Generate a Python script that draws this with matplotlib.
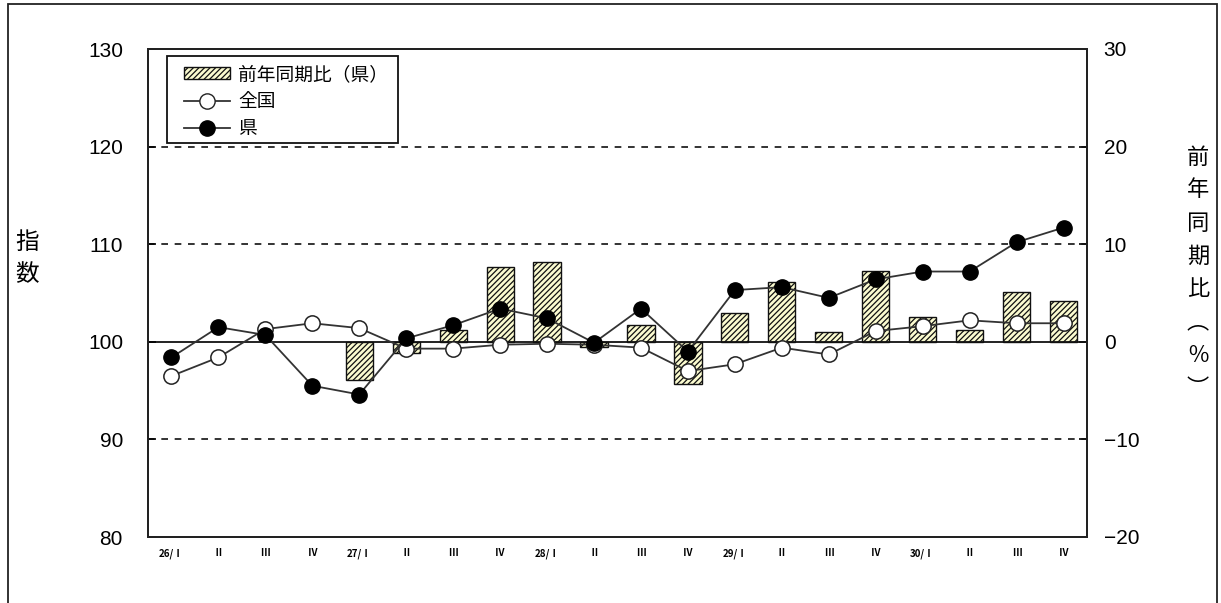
import numpy as np
import matplotlib
matplotlib.use("Agg")
import matplotlib.pyplot as plt
from matplotlib.patches import Patch, Rectangle
from matplotlib.lines import Line2D

plt.rcParams['hatch.linewidth'] = 0.9

JP = ['Noto Sans CJK JP', 'DejaVu Sans']
NUM = ['Liberation Sans Narrow', 'Liberation Sans', 'DejaVu Sans']

# quarter labels (Heisei year / quarter)
quarters = ["26/Ⅰ", "Ⅱ", "Ⅲ", "Ⅳ",
            "27/Ⅰ", "Ⅱ", "Ⅲ", "Ⅳ",
            "28/Ⅰ", "Ⅱ", "Ⅲ", "Ⅳ",
            "29/Ⅰ", "Ⅱ", "Ⅲ", "Ⅳ",
            "30/Ⅰ", "Ⅱ", "Ⅲ", "Ⅳ"]

# index values
national = [96.5, 98.4, 101.3, 101.9, 101.4, 99.3, 99.3, 99.7, 99.8, 99.7,
            99.4, 97.0, 97.7, 99.4, 98.7, 101.1, 101.6, 102.2, 101.9, 101.9]
prefecture = [98.4, 101.5, 100.7, 95.5, 94.6, 100.35, 101.7, 103.4, 102.4, 99.9,
              103.4, 99.0, 105.3, 105.6, 104.5, 106.4, 107.2, 107.2, 110.2, 111.7]

# year-on-year change of the prefecture index (%)
yoy = [np.nan, np.nan, np.nan, np.nan, -3.9, -1.1, 1.2, 7.7, 8.2, -0.5,
       1.7, -4.3, 2.9, 6.1, 1.0, 7.3, 2.5, 1.2, 5.1, 4.2]

left_ticks = [80, 90, 100, 110, 120, 130]
right_ticks = [-20, -10, 0, 10, 20, 30]

fig = plt.figure(figsize=(12.21, 6.03), dpi=100)
fig.patch.set_facecolor('white')

# outer frame
frame = Rectangle((8 / 1221, -0.01), (1217 - 8) / 1221, 1 - 4 / 603 + 0.01,
                  transform=fig.transFigure, fill=False, edgecolor='#222222',
                  linewidth=1.3, zorder=0)
fig.add_artist(frame)

ax = fig.add_axes([148 / 1221, 1 - 537 / 603, (1087 - 148) / 1221, (537 - 49) / 603])
ax2 = ax.twinx()
ax.set_zorder(ax2.get_zorder() + 1)
ax.patch.set_visible(False)

x = np.arange(len(quarters))

# bars on the right-hand axis
ax2.bar(x, yoy, width=0.58, facecolor='#fbfbd0', edgecolor='#111111',
        hatch='//////', linewidth=1.0, zorder=2)
ax2.set_ylim(-20, 30)
ax2.set_yticks(right_ticks)
ax2.set_yticklabels([str(v).replace('-', '−') for v in right_ticks],
                    fontsize=15, family=NUM)

# reference lines
ax.axhline(100, color='#111111', linewidth=1.3, zorder=1)
for v in (90, 110, 120):
    ax.axhline(v, color='#111111', linewidth=1.2, linestyle=(0, (4, 4)), zorder=1)

ax.plot(x, national, color='#333333', linewidth=1.3, marker='o', markersize=11,
        markerfacecolor='white', markeredgecolor='#222222', markeredgewidth=1.1,
        zorder=4)
ax.plot(x, prefecture, color='#333333', linewidth=1.3, marker='o', markersize=11,
        markerfacecolor='black', markeredgecolor='black', zorder=5)

ax.set_xlim(-0.5, len(quarters) - 0.5)
ax.set_ylim(80, 130)
ax.set_yticks(left_ticks)
ax.set_yticklabels([str(v) for v in left_ticks], fontsize=15, family=NUM)
ax.set_xticks(x)
ax.set_xticklabels(quarters, fontsize=7, family=JP, fontweight='bold')

for a in (ax, ax2):
    for s in a.spines.values():
        s.set_linewidth(1.4)
        s.set_color('#222222')
ax.tick_params(axis='y', direction='in', length=6, width=1.2, pad=18)
ax2.tick_params(axis='y', direction='in', length=6, width=1.2, pad=12)
ax.tick_params(axis='x', length=0, pad=8)

# axis titles written one character per line
for i, ch in enumerate("指数"):
    fig.text(27 / 1221, 1 - (242 + 33 * i) / 603, ch, fontsize=17, family=JP,
             ha='center', va='center')
for i, ch in enumerate("前年同期比︵％︶"):
    fig.text(1198 / 1221, 1 - (157 + 33 * i) / 603, ch, fontsize=16, family=JP,
             ha='center', va='center')

# legend box drawn separately so the inner padding can be set freely
legend_box = Rectangle((19 / 939, 1 - 94 / 488), 231 / 939, 87 / 488,
                       transform=ax.transAxes, facecolor='white',
                       edgecolor='#111111', linewidth=1.3, zorder=9)
ax.add_patch(legend_box)

handles = [
    Patch(facecolor='#fbfbd0', edgecolor='#111111', hatch='//////', linewidth=1.0),
    Line2D([], [], color='#333333', linewidth=1.3, marker='o', markersize=11,
           markerfacecolor='white', markeredgecolor='#222222'),
    Line2D([], [], color='#333333', linewidth=1.3, marker='o', markersize=11,
           markerfacecolor='black', markeredgecolor='black'),
]
leg = ax.legend(handles, ["前年同期比（県）", "全国", "県"],
                loc='upper left', bbox_to_anchor=(36 / 939, 1 - 15 / 488),
                prop={'family': JP, 'size': 13.5}, frameon=False,
                borderpad=0, handlelength=2.45, handleheight=0.6,
                labelspacing=0.32, handletextpad=0.43, borderaxespad=0)
leg.set_zorder(10)

fig.savefig("out.png", dpi=100, facecolor='white')
